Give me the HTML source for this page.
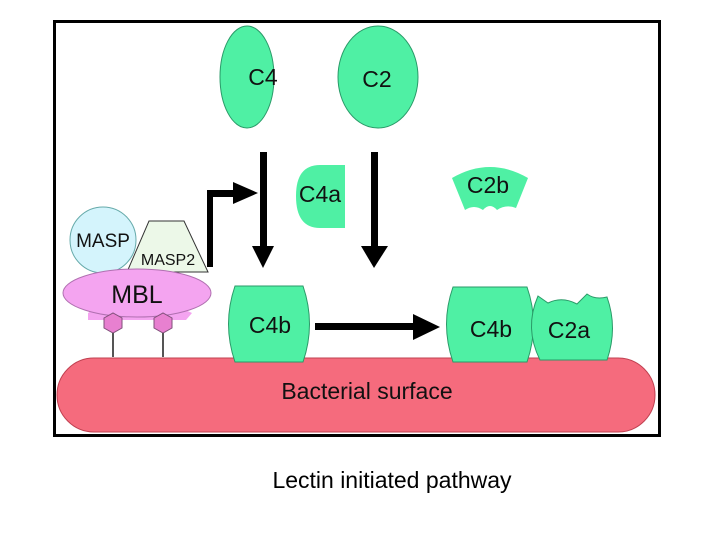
<!DOCTYPE html>
<html><head><style>body{margin:0;background:#fff}svg{display:block}</style></head><body>
<svg width="720" height="540" viewBox="0 0 720 540" xmlns="http://www.w3.org/2000/svg" font-family="Liberation Sans, sans-serif">
<rect x="54.5" y="21.5" width="605" height="414" fill="#fff" stroke="#000" stroke-width="3"/>
<rect x="57" y="358" width="598" height="74" rx="37" fill="#f56b7d" stroke="#c04050" stroke-width="1"/>
<text x="367" y="399" font-size="23" text-anchor="middle" fill="#111">Bacterial surface</text>
<g fill="#4ff0a4" stroke="#2a9a68" stroke-width="1">
<ellipse cx="247" cy="77" rx="27" ry="51"/>
<ellipse cx="378" cy="77" rx="40" ry="51"/>
<path d="M345 165 L320 165 Q296 165 296 196 Q296 228 320 228 L345 228 Z" stroke="none"/>
<path d="M452 178 Q490 156 528 178 L516 208 Q506 204 497 210 Q490 202 483 210 Q474 204 465 210 Z" stroke="none"/>
<path d="M235 286 L303 286 Q316 324 303 362 L235 362 Q222 324 235 286 Z"/>
<path d="M453 287 L527 287 Q540 324 527 362 L453 362 Q440 324 453 287 Z"/>
<path d="M538 296 L548 303 Q562 296 577 304 L587 294 Q595 300 607 297 Q618 328 607 360 L540 360 Q524 328 538 296 Z"/>
</g>
<g font-size="23" text-anchor="middle" fill="#111">
<text x="263" y="85">C4</text>
<text x="377" y="87">C2</text>
<text x="320" y="202">C4a</text>
<text x="488" y="193">C2b</text>
<text x="270" y="333">C4b</text>
<text x="491" y="337">C4b</text>
<text x="569" y="338">C2a</text>
</g>
<g fill="#000">
<rect x="260" y="152" width="7" height="96"/><path d="M252 246 L274 246 L263 268 Z"/>
<rect x="371" y="152" width="7" height="96"/><path d="M361 246 L388 246 L374 268 Z"/>
<rect x="315" y="323" width="100" height="7"/><path d="M413 314 L440 327 L413 340 Z"/>
<rect x="207" y="190" width="6" height="77"/><rect x="207" y="190" width="30" height="7"/><path d="M233 182 L258 193 L233 204 Z"/>
</g>
<circle cx="103" cy="240" r="33" fill="#d4f4fc" stroke="#6aa" stroke-width="1"/>
<text x="103" y="247" font-size="19" text-anchor="middle" fill="#111">MASP</text>
<path d="M149 221 L184 221 L208 272 L127 272 Z" fill="#ecf8e8" stroke="#333" stroke-width="1"/>
<text x="168" y="265" font-size="16" text-anchor="middle" fill="#111">MASP2</text>
<path d="M88 313 Q100 304 137 308 Q175 304 192 313 L186 320 L88 320 Z" fill="#f4a4f0"/>
<ellipse cx="137" cy="293" rx="74" ry="24" fill="#f4a4f0" stroke="#b070b0" stroke-width="1"/>
<text x="137" y="303" font-size="25" text-anchor="middle" fill="#111">MBL</text>
<g fill="#e880d0" stroke="#80507a" stroke-width="1">
<path d="M104 318 L113 313 L122 318 L122 328 L113 333 L104 328 Z"/>
<path d="M154 318 L163 313 L172 318 L172 328 L163 333 L154 328 Z"/>
</g>
<g stroke="#555" stroke-width="2"><line x1="113" y1="333" x2="113" y2="357"/><line x1="163" y1="333" x2="163" y2="357"/></g>
<text x="392" y="488" font-size="23" text-anchor="middle" fill="#000">Lectin initiated pathway</text>
</svg>
</body></html>
